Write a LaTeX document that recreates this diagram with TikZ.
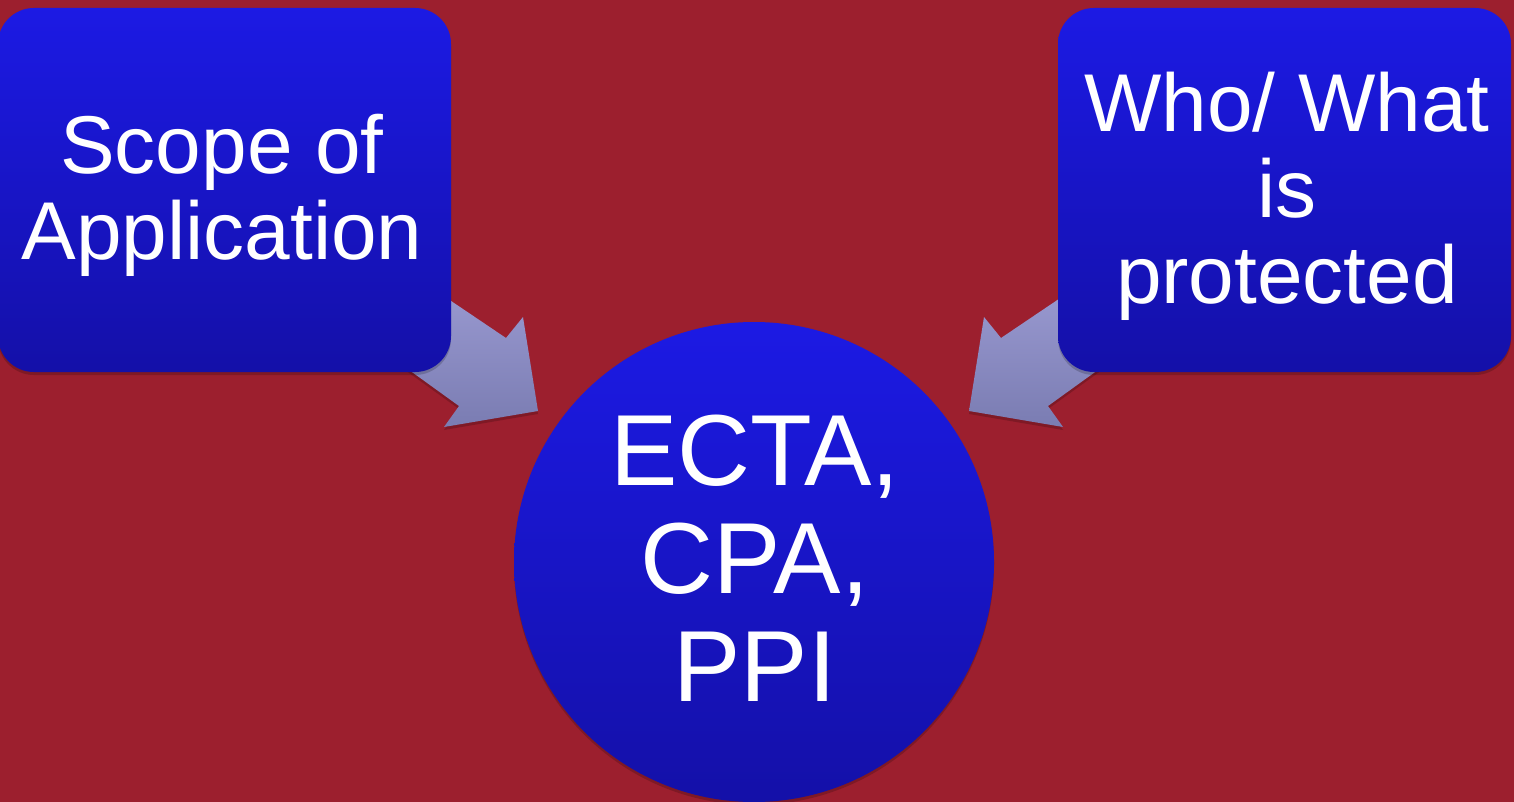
\documentclass[tikz,border=0pt]{standalone}
\usepackage{fontspec}
\setmainfont{Liberation Sans}
\usetikzlibrary{shadows}
\definecolor{bgred}{RGB}{156,31,46}
\definecolor{blutop}{RGB}{28,26,228}
\definecolor{blubot}{RGB}{20,16,168}
\definecolor{arrtop}{RGB}{155,155,210}
\definecolor{arrbot}{RGB}{122,124,178}
\tikzset{
  shapeshadow/.style={drop shadow={shadow xshift=0pt, shadow yshift=-3pt, opacity=0.18, fill=black}},
  bluebox/.style={rectangle, rounded corners=36pt, minimum width=453pt, minimum height=364pt,
    inner sep=0pt, top color=blutop, bottom color=blubot, draw=none, shapeshadow},
  bluecircle/.style={circle, minimum size=480pt, inner sep=0pt, top color=blutop,
    bottom color=blubot, draw=none, shapeshadow},
  boxtext/.style={text=white, align=center, font=\fontsize{82}{86}\selectfont, inner sep=0pt},
  circtext/.style={text=white, align=center, font=\fontsize{101}{108}\selectfont, inner sep=0pt},
  blockarrow/.style={top color=arrtop, bottom color=arrbot, draw=none, shapeshadow},
}
\begin{document}
\begin{tikzpicture}[x=1pt,y=-1pt]
\useasboundingbox (0,0) rectangle (1514,802);
\fill[bgred] (0,0) rectangle (1514,802);

% block arrows (behind the boxes)
\path[blockarrow] (420,280) -- (506,338) -- (523,317) -- (538,411) -- (444,427)
  -- (459,406) -- (380,349) -- cycle;
\path[blockarrow] (1087,280) -- (1001,338) -- (984,317) -- (969,411) -- (1063,427)
  -- (1048,406) -- (1127,349) -- cycle;

% boxes
\node[bluebox] (left) at (224.5,190) {};
\node[bluebox] (right) at (1284.5,190) {};
\node[bluecircle] (center) at (754,562) {};

% texts
\node[boxtext] (lefttext) at (222,195) {Scope of\\Application};
\node[boxtext] (righttext) at (1287,196) {Who/ What\\is\\protected};
\node[circtext] (centertext) at (755,558) {ECTA,\\CPA,\\PPI};
\end{tikzpicture}
\end{document}
